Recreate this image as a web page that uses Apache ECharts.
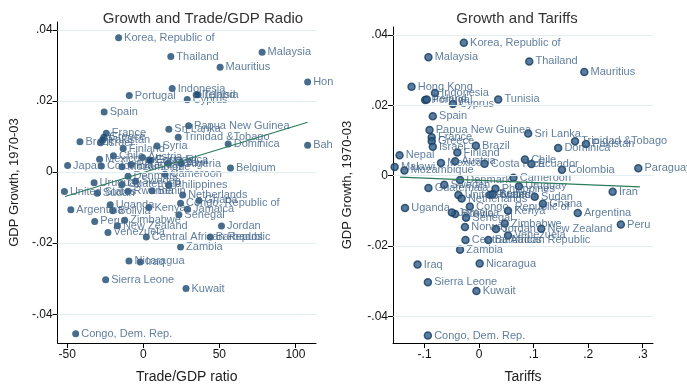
<!DOCTYPE html>
<html><head><meta charset="utf-8">
<script src="https://cdn.jsdelivr.net/npm/echarts@6/dist/echarts.min.js"></script>
<style>
html,body{margin:0;padding:0;background:#fff;width:687px;height:389px;overflow:hidden}
#l{position:absolute;left:0;top:0;width:333px;height:389px;overflow:hidden}
#r{position:absolute;left:333px;top:0;width:354px;height:389px;overflow:hidden}
</style>
</head><body><div id="l"></div><div id="r"></div>
<script>
const countries = ["Korea, Republic of","Thailand","Malaysia","Mauritius","Hong Kong","Indonesia","Portugal","Ireland","Tunisia","Cyprus","Spain","Papua New Guinea","Sri Lanka","France","Greece","Pakistan","Israel","Brazil","Trinidad &Tobago","Dominica","Bahrain","Syria","Finland","Japan","Colombia","Chile","Austria","Mexico","Costa Rica","Algeria","Malawi","Mozambique","Belgium","Ecuador","Nepal","Paraguay","Cameroon","Denmark","Uruguay","Guatemala","Sweden","Philippines","Iran","United States","Sudan","Rwanda","Benin","Netherlands","Ghana","Congo, Republic of","Argentina","Uganda","Bolivia","Kenya","Jamaica","Senegal","Peru","Zimbabwe","New Zealand","Jordan","Norway","Venezuela","Central African Republic","Barbados","Zambia","Nicaragua","Iraq","Sierra Leone","Kuwait","Congo, Dem. Rep."];
const growth = [0.0378,0.0325,0.0337,0.0295,0.0253,0.0235,0.0215,0.0217,0.0217,0.0204,0.0169,0.0130,0.0120,0.0109,0.0098,0.0090,0.0082,0.0085,0.0098,0.0079,0.0075,0.0073,0.0066,0.0018,0.0017,0.0046,0.0041,0.0036,0.0034,0.0024,0.0025,0.0015,0.0011,0.0033,0.0058,0.0021,-0.0006,-0.0012,-0.0030,-0.0035,-0.0026,-0.0037,-0.0046,-0.0055,-0.0060,-0.0054,-0.0053,-0.0065,-0.0080,-0.0088,-0.0106,-0.0092,-0.0109,-0.0100,-0.0105,-0.0120,-0.0139,-0.0136,-0.0151,-0.0152,-0.0146,-0.0170,-0.0183,-0.0183,-0.0211,-0.0250,-0.0253,-0.0303,-0.0328,-0.0455];
const tradeRatio = [-16.2,18.1,78.1,50.5,108,19,-9.2,34.8,36,28.9,-25.7,29.8,16.8,-24.3,-25.9,-26.8,-28.1,-41.6,23,55.8,108,9,-13.2,-49.7,-27.5,-19.6,-0.5,-28.7,3.7,25,16.4,-14,57.3,5,null,-8,14.3,-10,-32.3,-14,-5,16.8,null,-51.8,-30.2,-10,5.8,25.9,36.6,24.5,-47.6,-21.7,-20,3.7,29.1,23.4,-31.9,-12.2,-17,51.4,null,-23.2,2,44,24.5,-9.4,-2,-24.7,28.1,-44.4];
const tariffs = [-0.028,0.092,-0.093,0.193,-0.124,-0.081,-0.099,-0.096,0.035,-0.048,-0.085,-0.091,0.090,-0.087,-0.087,0.196,-0.085,-0.006,0.176,0.145,null,null,-0.040,null,0.152,0.084,-0.044,-0.070,0.010,null,-0.155,-0.137,null,0.096,-0.146,0.292,0.063,-0.035,0.073,-0.093,-0.064,0.030,0.245,-0.038,0.102,0.020,0.025,-0.032,0.117,-0.017,0.181,-0.136,-0.044,0.053,-0.050,-0.024,0.260,0.047,0.114,0.031,-0.026,0.053,-0.025,0.017,-0.035,0.001,-0.113,-0.094,-0.005,-0.094];
const yTicks = [-0.04,-0.02,0,0.02,0.04];
const tradeTicks = [-50,0,50,100];
const tariffTicks = [-0.1,0,0.1,0.2,0.3];
const fitTrade = [[-51.4,-0.0069],[108,0.0140]];
const fitTariff = [[-0.145,-0.0004],[0.295,-0.0032]];

const FONT = '"Liberation Sans", Arial, sans-serif';
function fmtDec(v){ if (Math.abs(v) < 1e-12) return '0'; const s = Math.abs(v).toFixed(2).replace(/0+$/,'').replace(/^0/,''); return (v<0?'-':'')+s; }

function build(el, o){
  const chart = echarts.init(document.getElementById(el), null, {renderer:'canvas'});
  const pts = [];
  countries.forEach((c,i)=>{ const x=o.xs[i]; if (x===null || x===undefined) return; pts.push({name:c, value:[x, growth[i]]}); });
  chart.setOption({
    animation:false,
    title:{text:o.title, left:o.titleX, top:6, textAlign:'center', textStyle:{fontFamily:FONT, fontSize:15, fontWeight:'normal', color:'#333'}},
    grid:{left:o.grid[0], top:o.grid[1], width:o.grid[2], height:o.grid[3]},
    xAxis:{type:'value', min:o.xmin, max:o.xmax,
      name:o.xname, nameLocation:'middle', nameGap:27, nameTextStyle:{fontFamily:FONT, fontSize:14, color:'#222'},
      axisLine:{onZero:false, lineStyle:{color:'#000', width:1}},
      axisTick:{show:true, length:5, customValues:o.xticks, lineStyle:{color:'#000'}},
      axisLabel:{customValues:o.xticks, formatter:o.xfmt, fontFamily:FONT, fontSize:12, color:'#111', margin:6},
      splitLine:{show:false}},
    yAxis:{type:'value', min:o.ymin, max:o.ymax,
      name:'GDP Growth, 1970-03', nameLocation:'middle', nameGap:o.ygap, nameTextStyle:{fontFamily:FONT, fontSize:13, color:'#222'},
      axisLine:{onZero:false, lineStyle:{color:'#000', width:1}},
      axisTick:{show:true, length:5, customValues:yTicks, lineStyle:{color:'#000'}},
      axisLabel:{customValues:yTicks, formatter:fmtDec, fontFamily:FONT, fontSize:12, color:'#111', margin:5},
      splitLine:{show:false}},
    series:[
      {type:'scatter', data:[], z:1, silent:true,
        markLine:{silent:true, symbol:'none', label:{show:false}, animation:false,
          lineStyle:{color:'#e3eef0', width:1, type:'solid'},
          data:yTicks.map(v=>({yAxis:v}))}},
      {type:'scatter', data:pts, z:3, symbolSize:7,
        itemStyle:o.item,
        label:{show:true, position:'right', distance:2, formatter:'{b}', fontFamily:FONT, fontSize:11, color:'#3a5e84'},
        labelLayout:{hideOverlap:false}},
      {type:'line', data:o.fit, z:4, symbol:'none', silent:true, lineStyle:{color:'#2b7a5c', width:1.2}}
    ]
  });
}

build('l', {title:'Growth and Trade/GDP Radio', titleX:198, grid:[49,22,267,331], xmin:-56.3, xmax:113.5,
  ymin:-0.0481, ymax:0.0422, xs:tradeRatio, xticks:tradeTicks, xfmt:v=>String(v), xname:'Trade/GDP ratio', ygap:33,
  item:{color:'#1a476f'}, fit:fitTrade});
build('r', {title:'Growth and Tariffs', titleX:179, grid:[53,27,267,330], xmin:-0.158, xmax:0.319,
  ymin:-0.0476, ymax:0.0423, xs:tariffs, xticks:tariffTicks, xfmt:fmtDec, xname:'Tariffs', ygap:39,
  item:{color:'#2e5c88', borderColor:'#173b5e', borderWidth:1.5}, fit:fitTariff});
</script>
</body></html>
